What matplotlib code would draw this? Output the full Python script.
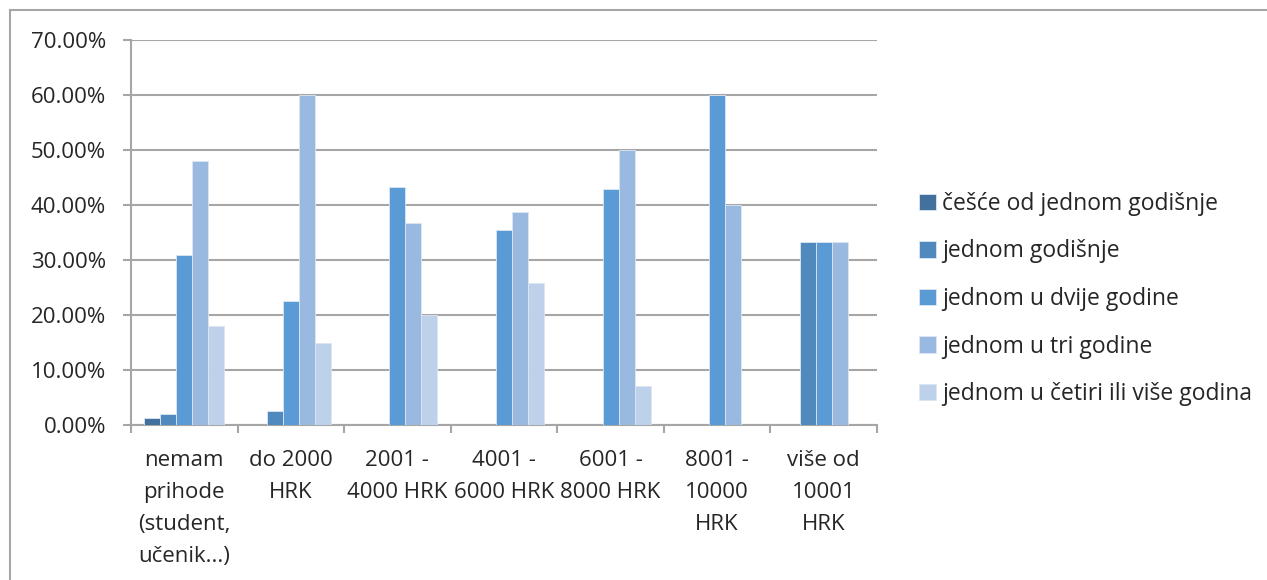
import numpy as np
import matplotlib.pyplot as plt
from matplotlib.lines import Line2D
from matplotlib.ticker import FuncFormatter, FixedLocator

plt.rcParams['font.family'] = ['Open Sans', 'DejaVu Sans']

# kategorije prihoda
categories = ['nemam\nprihode\n(student,\nučenik...)', 'do 2000\nHRK', '2001 -\n4000 HRK',
              '4001 -\n6000 HRK', '6001 -\n8000 HRK', '8001 -\n10000\nHRK', 'više od\n10001\nHRK']

# serije (u postocima)
series_names = ['češće od jednom godišnje', 'jednom godišnje', 'jednom u dvije godine',
                'jednom u tri godine', 'jednom u četiri ili više godina']
cesce = [1.2, 0, 0, 0, 0, 0, 0]
godisnje = [2.0, 2.5, 0, 0, 0, 0, 33.33]
dvije = [31.0, 22.5, 43.3, 35.5, 42.9, 60.0, 33.33]
tri = [48.0, 60.0, 36.7, 38.7, 50.0, 40.0, 33.33]
cetiri = [18.0, 15.0, 20.0, 25.8, 7.1, 0, 0]

colors = ['#41719C', '#4F89BD', '#5B9BD5', '#9AB9E0', '#BDD1EB']
text_col = '#262626'
grid_col = '#A6A6A6'

fig = plt.figure(figsize=(12.67, 5.8), dpi=100)
ax = fig.add_axes([131 / 1267, 1 - 425 / 580, (877 - 131) / 1267, (425 - 40) / 580])

x = np.arange(len(categories))
w = 0.15
for i, (vals, name, c) in enumerate(zip([cesce, godisnje, dvije, tri, cetiri], series_names, colors)):
    ax.bar(x + (i - 2) * w, vals, width=w, color=c, edgecolor='#DCE6F2', linewidth=0.6,
           label=name, zorder=3)

ax.set_xlim(-0.5, len(categories) - 0.5)
ax.set_ylim(0, 70)
ax.set_yticks(np.arange(0, 71, 10))
ax.yaxis.set_major_formatter(FuncFormatter(lambda v, p: f'{v:.2f}%'))
ax.grid(axis='y', color=grid_col, linewidth=1.5, zorder=0)

ax.set_xticks(x)
ax.set_xticklabels(categories, fontsize=16, color=text_col, linespacing=1.68)
ax.xaxis.set_minor_locator(FixedLocator(np.arange(-0.5, len(categories), 1)))
ax.tick_params(axis='x', which='major', length=0, pad=18)
ax.tick_params(axis='x', which='minor', length=6, width=1.5, color=grid_col)
ax.tick_params(axis='y', length=6, width=1.5, color=grid_col, labelsize=16,
               labelcolor=text_col, pad=12)

for s in ['top', 'right']:
    ax.spines[s].set_visible(False)
for s in ['left', 'bottom']:
    ax.spines[s].set_color(grid_col)
    ax.spines[s].set_linewidth(1.5)

leg = fig.legend(loc='center left', bbox_to_anchor=(919 / 1267, 1 - 299 / 580),
                 frameon=False, fontsize=16.5, borderpad=0, borderaxespad=0,
                 handlelength=0.72, handleheight=0.72, handletextpad=0.28,
                 labelspacing=1.03)
for t in leg.get_texts():
    t.set_color(text_col)

# okvir grafikona
fig.add_artist(Line2D([10 / 1267, 10 / 1267], [0, 1 - 10 / 580], color=grid_col, lw=1.5))
fig.add_artist(Line2D([10 / 1267, 1], [1 - 10 / 580, 1 - 10 / 580], color=grid_col, lw=1.5))

fig.savefig('out.png', dpi=100)
